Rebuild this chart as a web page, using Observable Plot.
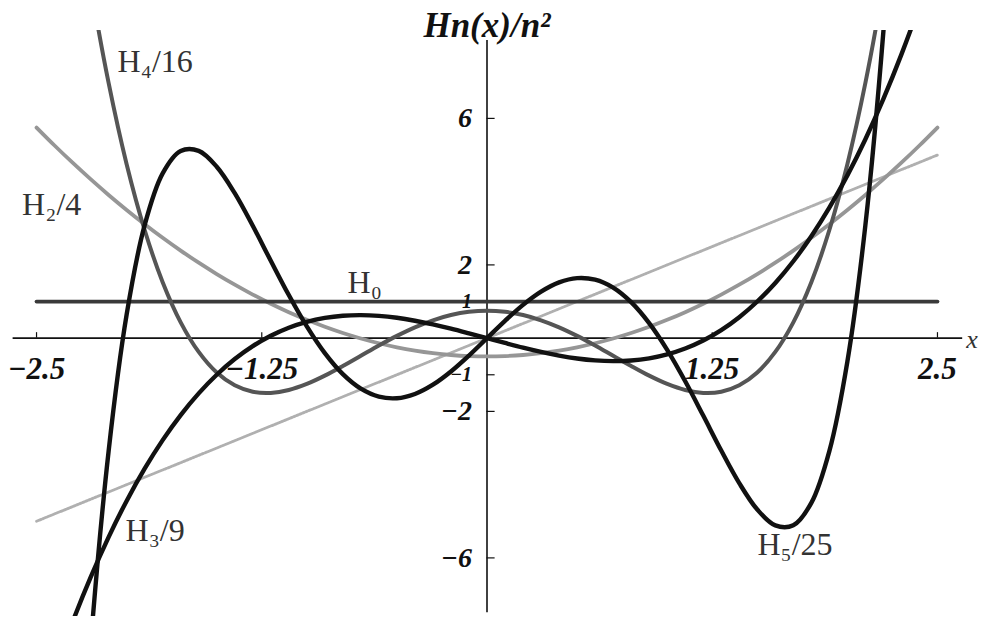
<!DOCTYPE html>
<html>
<head>
<meta charset="utf-8">
<script src="https://cdn.jsdelivr.net/npm/d3@7"></script>
<script src="https://cdn.jsdelivr.net/npm/@observablehq/plot@0.6"></script>
<style>
  html, body { margin: 0; padding: 0; background: #fff; }
</style>
</head>
<body>
<div id="chart"></div>
<script>
// x sample positions
const xs = [-2.5,-2.4,-2.3,-2.2,-2.1,-2.0,-1.9,-1.8,-1.7,-1.6,-1.5,-1.4,-1.3,-1.2,-1.1,-1.0,-0.9,-0.8,-0.7,-0.6,-0.5,-0.4,-0.3,-0.2,-0.1,
            0,0.1,0.2,0.3,0.4,0.5,0.6,0.7,0.8,0.9,1.0,1.1,1.2,1.3,1.4,1.5,1.6,1.7,1.8,1.9,2.0,2.1,2.2,2.3,2.4,2.5];

// H0 (constant line)
const h0X = [-2.5, 2.5];
const h0Y = [1, 1];

// H1
const h1 = [-5,-4.8,-4.6,-4.4,-4.2,-4,-3.8,-3.6,-3.4,-3.2,-3,-2.8,-2.6,-2.4,-2.2,-2,-1.8,-1.6,-1.4,-1.2,-1,-0.8,-0.6,-0.4,-0.2,
            0,0.2,0.4,0.6,0.8,1,1.2,1.4,1.6,1.8,2,2.2,2.4,2.6,2.8,3,3.2,3.4,3.6,3.8,4,4.2,4.4,4.6,4.8,5];

// H2/4
const h2 = [5.75,5.26,4.79,4.34,3.91,3.5,3.11,2.74,2.39,2.06,1.75,1.46,1.19,0.94,0.71,0.5,0.31,0.14,-0.01,-0.14,-0.25,-0.34,-0.41,-0.46,-0.49,
            -0.5,-0.49,-0.46,-0.41,-0.34,-0.25,-0.14,-0.01,0.14,0.31,0.5,0.71,0.94,1.19,1.46,1.75,2.06,2.39,2.74,3.11,3.5,3.91,4.34,4.79,5.26,5.75];

// H3/9
const h3 = [-10.556,-9.088,-7.748,-6.532,-5.432,-4.444,-3.564,-2.784,-2.100,-1.508,-1.0,-0.572,-0.220,0.064,0.284,0.444,0.552,0.612,0.628,0.608,0.556,0.476,0.376,0.260,0.132,
            0,-0.132,-0.260,-0.376,-0.476,-0.556,-0.608,-0.628,-0.612,-0.552,-0.444,-0.284,-0.064,0.220,0.572,1.0,1.508,2.100,2.784,3.564,4.444,5.432,6.532,7.748,9.088,10.556];

// H4/16
const h4 = [21.063,16.648,12.864,9.656,6.968,4.75,2.952,1.528,0.432,-0.376,-0.938,-1.288,-1.464,-1.496,-1.416,-1.25,-1.024,-0.760,-0.480,-0.200,0.063,0.296,0.488,0.632,0.720,
            0.75,0.720,0.632,0.488,0.296,0.063,-0.200,-0.480,-0.760,-1.024,-1.25,-1.416,-1.496,-1.464,-1.288,-0.938,-0.376,0.432,1.528,2.952,4.75,6.968,9.656,12.864,16.648,21.063];

// H5/25
const h5 = [-37,-24.968,-15.556,-8.379,-3.086,0.64,3.084,4.498,5.109,5.113,4.68,3.958,3.068,2.114,1.177,0.32,-0.410,-0.983,-1.380,-1.597,-1.64,-1.524,-1.270,-0.909,-0.474,
            0,0.474,0.909,1.270,1.524,1.64,1.597,1.380,0.983,0.410,-0.32,-1.177,-2.114,-3.068,-3.958,-4.68,-5.113,-5.109,-4.498,-3.084,-0.64,3.086,8.379,15.556,24.968,37];

// axis ticks
const xTicks = [-2.5, -1.25, 1.25, 2.5];
const xTickLabels = ["\u22122.5", "\u22121.25", "1.25", "2.5"];
const yTicks = [-6, -2, -1, 1, 2, 6];
const yTickLabels = ["\u22126", "\u22122", "\u22121", "1", "2", "6"];

// curve labels
const labelNames = ["H\u2084/16", "H\u2082/4", "H\u2080", "H\u2083/9", "H\u2085/25"];
const labelX = [-2.05, -2.58, -0.774, -2.006, 1.501];
const labelY = [7.55, 3.65, 1.52, -5.25, -5.63];

const axisTitle = "Hn(x)/n\u00B2";
const xAxisTitle = "x";

const rowsOf = ys => xs.map((x, i) => ({x, y: ys[i]}));
const h0Rows = h0X.map((x, i) => ({x, y: h0Y[i]}));

const serif = "'Liberation Serif', 'DejaVu Serif', serif";

const lineOpts = (stroke, w, extra = {}) => ({x: "x", y: "y", stroke, strokeWidth: w, curve: "catmull-rom", clip: true, ...extra});

const chart = Plot.plot({
  width: 985,
  height: 620,
  marginLeft: 0,
  marginRight: 12,
  marginTop: 30,
  marginBottom: 4,
  x: {domain: [-2.7, 2.7]},
  y: {domain: [-7.6, 8.4]},
  axis: null,
  style: {background: "#fff", overflow: "visible"},
  marks: [
    // axes lines
    Plot.ruleY([0], {x1: -2.63, x2: 2.64, stroke: "#111", strokeWidth: 1.6}),
    Plot.ruleX([0], {y1: -7.5, y2: 8.13, stroke: "#111", strokeWidth: 1.6}),
    Plot.ruleX(xTicks, {x: d => d, y1: 0, y2: 0.15, stroke: "#111", strokeWidth: 1.2}),
    Plot.ruleY(yTicks, {y: d => d, x1: 0, x2: 0.045, stroke: "#111", strokeWidth: 1.2}),
    // curves
    Plot.line(rowsOf(h1), lineOpts("#b0b0b0", 2.8, {strokeDasharray: "2,1.3"})),
    Plot.line(rowsOf(h2), lineOpts("#969696", 3.8)),
    Plot.line(h0Rows, lineOpts("#3a3a3a", 3.8, {curve: "linear"})),
    Plot.line(rowsOf(h4), lineOpts("#555", 4)),
    Plot.line(rowsOf(h3), lineOpts("#111", 4.4)),
    Plot.line(rowsOf(h5), lineOpts("#111", 4.4)),
    // tick labels
    Plot.text(xTicks, {x: d => d, y: 0, dy: 31, text: (d, i) => xTickLabels[i],
      fontSize: 31, fontWeight: "bold", fontStyle: "italic", fontFamily: serif, fill: "#111"}),
    Plot.text(yTicks, {x: 0, y: d => d, dx: -15, textAnchor: "end", text: (d, i) => yTickLabels[i],
      fontSize: d => Math.abs(d) === 1 ? 20 : 28, fontWeight: "bold", fontStyle: "italic", fontFamily: serif, fill: "#111"}),
    // axis titles
    Plot.text([axisTitle], {x: 0, y: 8.54, text: d => d, fontSize: 35, fontWeight: "bold", fontStyle: "italic", fontFamily: serif, fill: "#111"}),
    Plot.text([xAxisTitle], {x: 2.66, y: 0, dy: 2, textAnchor: "start", text: d => d, fontSize: 26, fontStyle: "italic", fontFamily: serif, fill: "#333"}),
    // curve labels
    Plot.text(labelNames, {x: (d, i) => labelX[i], y: (d, i) => labelY[i], text: d => d, textAnchor: "start",
      fontSize: 32, fontFamily: serif, fill: "#333"})
  ]
});
document.getElementById("chart").appendChild(chart);
</script>
</body>
</html>
